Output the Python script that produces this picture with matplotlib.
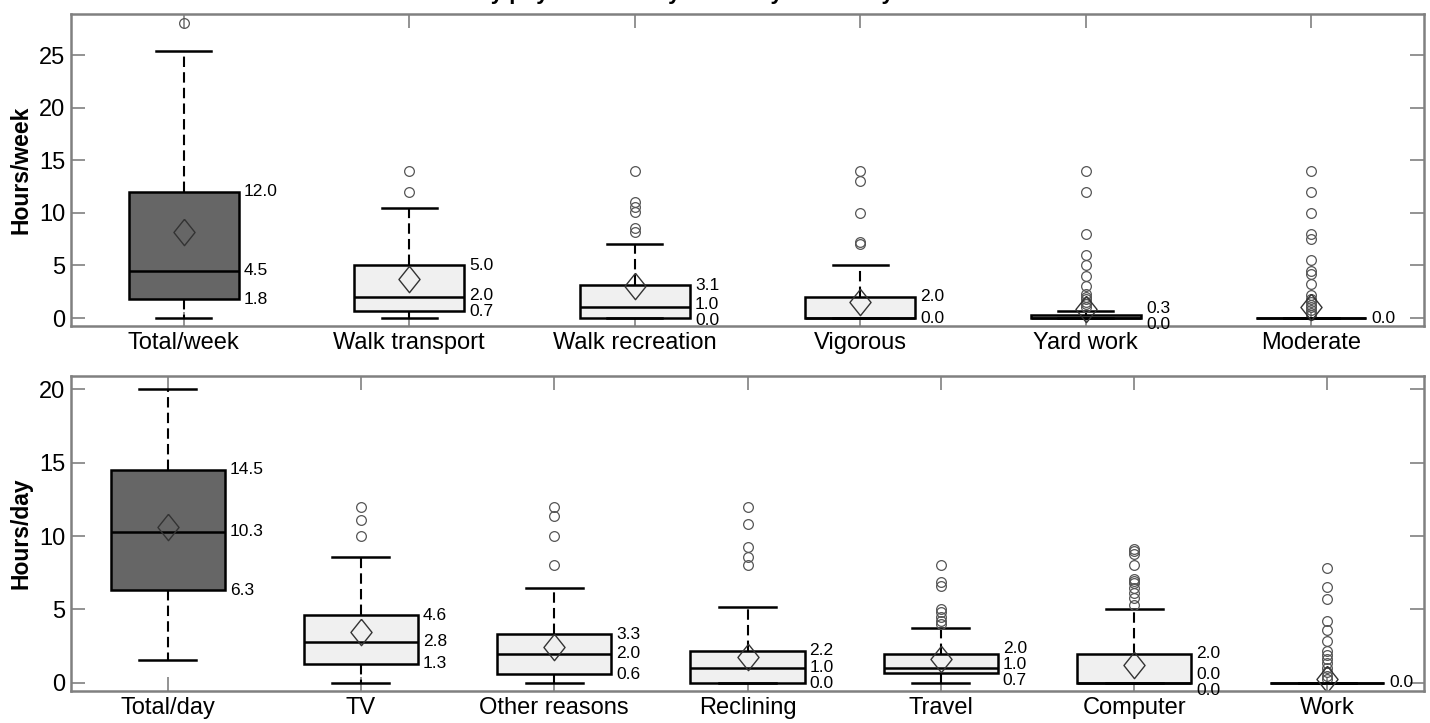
import numpy as np
import matplotlib
matplotlib.use("Agg")
import matplotlib.pyplot as plt

plt.rcParams['font.family'] = ['Liberation Sans', 'DejaVu Sans']

# --- weekly physical activity (hours/week) ---
week_cats = ["Total/week", "Walk transport", "Walk recreation", "Vigorous", "Yard work", "Moderate"]
week_q1 = [1.8, 0.7, 0.0, 0.0, 0.0, 0.0]
week_med = [4.5, 2.0, 1.0, 0.0, 0.0, 0.0]
week_q3 = [12.0, 5.0, 3.1, 2.0, 0.3, 0.0]
week_lo = [0.0, 0.0, 0.0, 0.0, 0.0, 0.0]
week_hi = [25.4, 10.5, 7.0, 5.0, 0.7, 0.0]
week_mean = [8.2, 3.7, 3.0, 1.5, 0.9, 1.0]
week_fliers = [
    [28.0],
    [12.0, 14.0],
    [8.2, 8.6, 10.1, 10.6, 11.0, 14.0],
    [7.0, 7.2, 10.0, 13.0, 14.0],
    [1.0, 1.3, 1.5, 1.8, 2.0, 2.3, 3.0, 4.0, 5.0, 6.0, 8.0, 12.0, 14.0],
    [0.3, 0.5, 0.8, 1.0, 1.2, 1.5, 1.8, 2.2, 3.2, 4.2, 4.5, 5.5, 7.5, 8.0, 10.0, 12.0, 14.0],
]
week_labels = [[12.0, 4.5, 1.8], [5.0, 2.0, 0.7], [3.1, 1.0, 0.0], [2.0, 0.0], [0.3, 0.0], [0.0]]

# --- daily sedentary time (hours/day) ---
day_cats = ["Total/day", "TV", "Other reasons", "Reclining", "Travel", "Computer", "Work"]
day_q1 = [6.3, 1.3, 0.6, 0.0, 0.7, 0.0, 0.0]
day_med = [10.3, 2.8, 2.0, 1.0, 1.0, 0.0, 0.0]
day_q3 = [14.5, 4.6, 3.3, 2.2, 2.0, 2.0, 0.0]
day_lo = [1.55, 0.0, 0.0, 0.0, 0.0, 0.0, 0.0]
day_hi = [20.0, 8.55, 6.45, 5.15, 3.75, 5.0, 0.0]
day_mean = [10.6, 3.45, 2.45, 1.75, 1.6, 1.25, 0.3]
day_fliers = [
    [],
    [10.0, 11.1, 12.0],
    [8.0, 10.0, 11.4, 12.0],
    [8.0, 8.6, 9.25, 10.85, 12.0],
    [4.0, 4.2, 4.5, 4.8, 5.0, 6.6, 6.9, 8.0],
    [5.3, 5.75, 6.1, 6.45, 6.8, 6.95, 7.1, 8.0, 8.75, 8.95, 9.1],
    [0.3, 0.5, 0.75, 1.0, 1.35, 1.65, 1.9, 2.15, 2.85, 3.6, 4.25, 5.7, 6.55, 7.85],
]
day_labels = [[14.5, 10.3, 6.3], [4.6, 2.8, 1.3], [3.3, 2.0, 0.6], [2.2, 1.0, 0.0],
              [2.0, 1.0, 0.7], [2.0, 0.0, 0.0], [0.0]]

dark = "#666666"
light = "#f0f0f0"
grey = "#808080"
diamond = [(0, 1), (0.8, 0), (0, -1), (-0.8, 0), (0, 1)]


def panel(ax, cats, q1, med, q3, lo, hi, mean, fliers, labels, ylim, yticks, ylabel, width):
    n = len(cats)
    pos = np.arange(1, n + 1)
    stats = []
    for i in range(n):
        stats.append(dict(med=med[i], q1=q1[i], q3=q3[i], whislo=lo[i], whishi=hi[i],
                          mean=mean[i], fliers=fliers[i]))
    ax.set_xlim(0.5, n + 0.5)
    ax.set_ylim(*ylim)
    res = ax.bxp(stats, positions=pos, widths=width, patch_artist=True, showmeans=True,
                 boxprops=dict(edgecolor="black", linewidth=1.8),
                 medianprops=dict(color="black", linewidth=1.8),
                 whiskerprops=dict(color="black", linewidth=1.5, linestyle=(0, (5, 2.5))),
                 capprops=dict(color="black", linewidth=1.8),
                 flierprops=dict(marker="o", markerfacecolor="none", markeredgecolor="#555555",
                                 markersize=7, markeredgewidth=0.9),
                 meanprops=dict(marker=diamond, markerfacecolor="none", markeredgecolor="#333333",
                                markersize=19, markeredgewidth=1.0))
    for i, b in enumerate(res["boxes"]):
        b.set_facecolor(dark if i == 0 else light)

    # quartile labels next to the boxes, spread apart when they crowd
    ppu = ax.transData.transform((0, 1))[1] - ax.transData.transform((0, 0))[1]
    gap = 16.0 / ppu
    for i in range(n):
        ys = list(labels[i])
        for _ in range(60):
            for k in range(len(ys) - 1):
                if ys[k] - ys[k + 1] < gap:
                    mid = (ys[k] + ys[k + 1]) / 2
                    ys[k] = mid + gap / 2
                    ys[k + 1] = mid - gap / 2
        for v, y in zip(labels[i], ys):
            ax.annotate(f"{v:.1f}", xy=(pos[i] + width / 2, y), xytext=(5, 0),
                        textcoords="offset pixels", va="center", ha="left", fontsize=12.5)

    ax.set_xticks(pos)
    ax.set_xticklabels(cats, fontsize=17)
    ax.set_yticks(yticks)
    ax.set_yticklabels([str(t) for t in yticks], fontsize=17)
    ax.set_ylabel(ylabel, fontsize=16.5, fontweight="bold", labelpad=5)
    ax.tick_params(axis="both", direction="in", length=10, width=1.2, color=grey,
                   top=True, right=True, pad=4)
    for s in ax.spines.values():
        s.set_color(grey)
        s.set_linewidth(1.8)


fig = plt.figure(figsize=(14.3, 7.23), dpi=100)
ax1 = fig.add_axes([71 / 1430, 1 - 326 / 723, 1353 / 1430, 312 / 723])
ax2 = fig.add_axes([71 / 1430, 1 - 691 / 723, 1353 / 1430, 315 / 723])

panel(ax1, week_cats, week_q1, week_med, week_q3, week_lo, week_hi, week_mean, week_fliers,
      week_labels, (-0.76, 28.9), [0, 5, 10, 15, 20, 25], "Hours/week", 0.49)
panel(ax2, day_cats, day_q1, day_med, day_q3, day_lo, day_hi, day_mean, day_fliers,
      day_labels, (-0.55, 20.9), [0, 5, 10, 15, 20], "Hours/day", 0.59)

# title sits above the picture, only its descenders show (as in the source)
fig.text(0.48, 1.002, "Weekly physical activity and daily sedentary time",
         ha="center", va="baseline", fontsize=16, fontweight="bold")

fig.savefig("out.png", dpi=100)
